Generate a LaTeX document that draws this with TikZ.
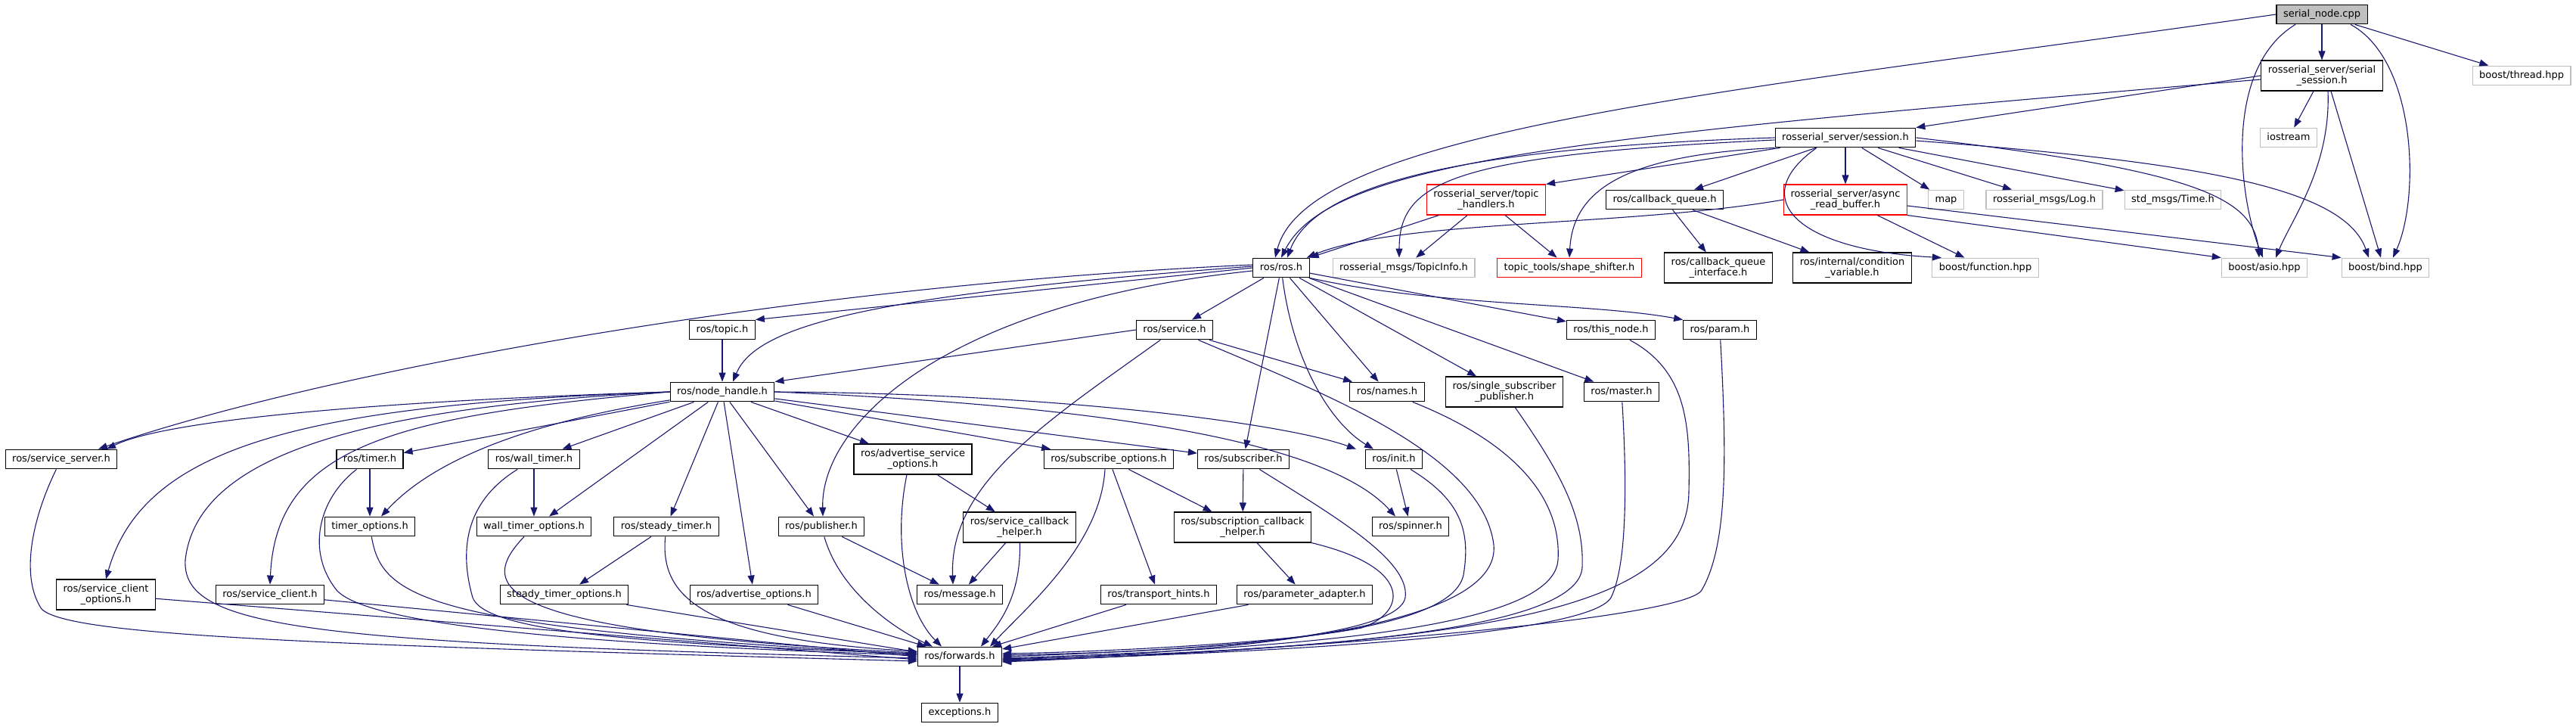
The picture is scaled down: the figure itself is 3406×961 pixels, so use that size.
\documentclass[tikz,border=0pt]{standalone}
\usepackage{fontspec}
\setmainfont{DejaVu Sans}
\usepackage{xcolor}
\usepackage{tikz}
\usetikzlibrary{arrows.meta}

\definecolor{depblue}{HTML}{191970}
\definecolor{extgray}{HTML}{BFBFBF}
\definecolor{rootgray}{HTML}{BFBFBF}

\begin{document}
\begin{tikzpicture}[x=1pt, y=-1pt,
  filebox/.style={draw=black, line width=1.1pt, font=\fontsize{13}{14}\selectfont, inner xsep=9pt},
  file/.style={filebox, text height=9.5pt, text depth=3pt, inner ysep=6.6pt},
  file2/.style={filebox, align=center, minimum height=40pt, inner ysep=3pt},
  nodoc/.style={draw=extgray},
  missing/.style={draw=red},
  rootfile/.style={fill=rootgray},
  dep/.style={draw=depblue, line width=1.1pt, -{Triangle[length=12pt, width=9pt]}}]
  \useasboundingbox (0,0) rectangle (3406,961);

  % files
  \node[file, rootfile] (sn) at (3070,19) {serial\_node.cpp};
  \node[file2] (ss) at (3070,100) {rosserial\_server/serial\\\_session.h};
  \node[file, nodoc] (thr) at (3334,100) {boost/thread.hpp};
  \node[file] (ses) at (2440,182) {rosserial\_server/session.h};
  \node[file, nodoc] (ios) at (3026,182) {iostream};
  \node[file2, missing] (th) at (1965,264) {rosserial\_server/topic\\\_handlers.h};
  \node[file] (cq) at (2201,264) {ros/callback\_queue.h};
  \node[file2, missing] (arb) at (2440,264) {rosserial\_server/async\\\_read\_buffer.h};
  \node[file, nodoc] (map) at (2573,264) {map};
  \node[file, nodoc] (log) at (2703,264) {rosserial\_msgs/Log.h};
  \node[file, nodoc] (time) at (2873,264) {std\_msgs/Time.h};
  \node[file] (ros) at (1694,354) {ros/ros.h};
  \node[file, nodoc] (tinfo) at (1856,354) {rosserial\_msgs/TopicInfo.h};
  \node[file, missing] (shs) at (2075,354) {topic\_tools/shape\_shifter.h};
  \node[file2] (cqi) at (2272,354) {ros/callback\_queue\\\_interface.h};
  \node[file2] (cv) at (2449,354) {ros/internal/condition\\\_variable.h};
  \node[file, nodoc] (bfun) at (2625,354) {boost/function.hpp};
  \node[file, nodoc] (basio) at (2994,354) {boost/asio.hpp};
  \node[file, nodoc] (bbind) at (3154,354) {boost/bind.hpp};
  \node[file] (topic) at (955,436) {ros/topic.h};
  \node[file] (srv) at (1553,436) {ros/service.h};
  \node[file] (thisnode) at (2130,436) {ros/this\_node.h};
  \node[file] (param) at (2274,436) {ros/param.h};
  \node[file] (nh) at (955,518) {ros/node\_handle.h};
  \node[file] (names) at (1834,518) {ros/names.h};
  \node[file2] (ssp) at (1989,518) {ros/single\_subscriber\\\_publisher.h};
  \node[file] (master) at (2144,518) {ros/master.h};
  \node[file] (sserver) at (81,607) {ros/service\_server.h};
  \node[file] (timer) at (489,607) {ros/timer.h};
  \node[file] (wtimer) at (706,607) {ros/wall\_timer.h};
  \node[file2] (aso) at (1207,607) {ros/advertise\_service\\\_options.h};
  \node[file] (subo) at (1466,607) {ros/subscribe\_options.h};
  \node[file] (sub) at (1644,607) {ros/subscriber.h};
  \node[file] (init) at (1843,607) {ros/init.h};
  \node[file] (topt) at (489,696) {timer\_options.h};
  \node[file] (wtopt) at (706,696) {wall\_timer\_options.h};
  \node[file] (stimer) at (881,696) {ros/steady\_timer.h};
  \node[file] (pub) at (1086,696) {ros/publisher.h};
  \node[file2] (sch) at (1348,697) {ros/service\_callback\\\_helper.h};
  \node[file2] (subch) at (1643,697) {ros/subscription\_callback\\\_helper.h};
  \node[file] (spin) at (1865,696) {ros/spinner.h};
  \node[file2] (sco) at (140,786) {ros/service\_client\\\_options.h};
  \node[file] (sc) at (357,786) {ros/service\_client.h};
  \node[file] (stopt) at (746,786) {steady\_timer\_options.h};
  \node[file] (ao) at (997,786) {ros/advertise\_options.h};
  \node[file] (msg) at (1269,786) {ros/message.h};
  \node[file] (hints) at (1532,786) {ros/transport\_hints.h};
  \node[file] (pa) at (1725,786) {ros/parameter\_adapter.h};
  \node[file] (fwd) at (1269,868) {ros/forwards.h};
  \node[file] (exc) at (1269,942) {exceptions.h};

  % serial_node.cpp and serial_session.h
  \draw[dep] (sn.west) .. controls (2300,120) and (1730,170) .. ([xshift=-8pt]ros.north);
  \draw[dep] (sn) -- (ss);
  \draw[dep] (sn) -- (thr);
  \draw[dep] ([xshift=-35pt]sn.south) .. controls (2940,90) and (2960,260) .. ([xshift=-2pt]basio.north);
  \draw[dep] ([xshift=38pt]sn.south) .. controls (3195,80) and (3200,260) .. ([xshift=10pt]bbind.north);
  \draw[dep] (ss.west) -- (ses.north east);
  \draw[dep] ([yshift=-5pt]ss.west) .. controls (2100,180) and (1760,210) .. (ros.north);
  \draw[dep] (ss) -- (ios);
  \draw[dep] ([xshift=8pt]ss.south) .. controls (3082,220) and (3030,290) .. ([xshift=15pt]basio.north);
  \draw[dep] ([xshift=12pt]ss.south) -- ([xshift=-6pt]bbind.north);

  % session.h
  \draw[dep] (ses.west) .. controls (1950,195) and (1740,240) .. ([xshift=8pt]ros.north);
  \draw[dep] ([yshift=-3pt]ses.west) .. controls (1920,205) and (1850,240) .. ([xshift=-6pt]tinfo.north);
  \draw[dep] (ses) -- (th.north east);
  \draw[dep] (ses.south west) .. controls (2150,205) and (2080,250) .. (shs.north);
  \draw[dep] (ses) -- (cq);
  \draw[dep] (ses) -- (arb);
  \draw[dep] (ses) -- (map);
  \draw[dep] (ses) -- (log);
  \draw[dep] (ses) -- (time);
  \draw[dep] ([xshift=-38pt]ses.south) .. controls (2310,260) and (2370,330) .. ([xshift=-58pt]bfun.north);
  \draw[dep] (ses.east) .. controls (2900,225) and (2980,260) .. ([xshift=-7pt]basio.north);
  \draw[dep] ([yshift=-4pt]ses.east) .. controls (2920,215) and (3100,250) .. ([xshift=-22pt]bbind.north);

  % topic_handlers.h, callback_queue.h, async_read_buffer.h
  \draw[dep] (th) -- (ros.north east);
  \draw[dep] (th) -- (tinfo);
  \draw[dep] (th) -- (shs);
  \draw[dep] (cq) -- (cqi);
  \draw[dep] (cq) -- (cv);
  \draw[dep] (arb.west) .. controls (2150,300) and (1850,290) .. ([xshift=-4pt]ros.north east);
  \draw[dep] (arb) -- (bfun);
  \draw[dep] (arb.south east) -- (basio.north west);
  \draw[dep] ([yshift=-8pt]arb.east) -- (bbind.north west);

  % ros.h
  \draw[dep] (ros.west) -- (topic.north east);
  \draw[dep] ([yshift=2pt]ros.west) .. controls (1150,390) and (1000,430) .. ([xshift=14pt]nh.north);
  \draw[dep] ([yshift=4pt]ros.west) .. controls (1000,380) and (400,500) .. ([xshift=49pt]sserver.north);
  \draw[dep] (ros) -- (srv);
  \draw[dep] ([yshift=-4pt]ros.west) .. controls (1250,400) and (1085,560) .. ([xshift=2pt]pub.north);
  \draw[dep] (ros) -- (sub);
  \draw[dep] (ros) -- (names);
  \draw[dep] (ros) -- (ssp);
  \draw[dep] (ros) -- (master);
  \draw[dep] (ros) -- (thisnode);
  \draw[dep] (ros.south east) .. controls (1900,405) and (2100,400) .. (param.north west);
  \draw[dep] (ros) .. controls (1710,480) and (1760,560) .. ([xshift=-27pt]init.north);

  % topic.h and service.h
  \draw[dep] (topic) -- (nh);
  \draw[dep] (srv.west) -- (nh.north east);
  \draw[dep] (srv) -- (names);
  \draw[dep] (srv) .. controls (1380,560) and (1255,640) .. ([xshift=-9pt]msg.north);
  \draw[dep] (srv) .. controls (1750,520) and (1960,600) .. (1975,720) .. controls (1985,820) and (1700,860) .. ([yshift=-4pt]fwd.east);

  % node_handle.h
  \draw[dep] (nh.west) .. controls (500,530) and (220,555) .. ([xshift=60pt]sserver.north);
  \draw[dep] (nh.west) .. controls (400,535) and (190,590) .. (sco.north);
  \draw[dep] (nh.west) .. controls (520,550) and (365,590) .. (sc.north);
  \draw[dep] (nh) -- (timer);
  \draw[dep] (nh) .. controls (720,555) and (580,600) .. ([xshift=15pt]topt.north);
  \draw[dep] (nh) -- (wtimer);
  \draw[dep] (nh) -- ([xshift=20pt]wtopt.north);
  \draw[dep] (nh) -- (stimer);
  \draw[dep] (nh) -- (ao);
  \draw[dep] (nh) -- ([xshift=-10pt]pub.north);
  \draw[dep] (nh) -- (aso);
  \draw[dep] (nh) -- (subo);
  \draw[dep] (nh) -- (sub);
  \draw[dep] (nh.east) .. controls (1400,520) and (1700,560) .. ([xshift=-50pt]init.north);
  \draw[dep] (nh.east) .. controls (1550,540) and (1770,600) .. ([xshift=-20pt]spin.north);
  \draw[dep] (nh.west) .. controls (450,540) and (260,610) .. (245,740) .. controls (240,830) and (400,850) .. ([yshift=-2pt]fwd.west);

  % second and third rows
  \draw[dep] (timer) -- (topt);
  \draw[dep] (wtimer) -- (wtopt);
  \draw[dep] (stimer) -- (stopt);
  \draw[dep] (aso) -- (sch);
  \draw[dep] (subo) -- (hints);
  \draw[dep] (subo) -- (subch);
  \draw[dep] (sub) -- (subch);
  \draw[dep] (subch) -- (pa);
  \draw[dep] (pub) -- (msg);
  \draw[dep] (sch) -- (msg);
  \draw[dep] (init) -- (spin);

  % into forwards.h from the left
  \draw[dep] (sserver) .. controls (45,680) and (25,760) .. (55,805) .. controls (90,840) and (400,852) .. ([yshift=-6pt]fwd.west);
  \draw[dep] (sco) -- ([yshift=-4pt]fwd.west);
  \draw[dep] (sc) -- (fwd.west);
  \draw[dep] (timer) .. controls (420,660) and (405,730) .. (445,780) .. controls (480,820) and (700,850) .. ([yshift=2pt]fwd.west);
  \draw[dep] (topt) .. controls (505,790) and (560,830) .. ([yshift=3pt]fwd.west);
  \draw[dep] (wtimer) .. controls (620,660) and (605,720) .. (625,790) .. controls (640,830) and (800,850) .. ([yshift=4pt]fwd.west);
  \draw[dep] (wtopt) .. controls (625,780) and (660,835) .. ([yshift=5pt]fwd.west);
  \draw[dep] (stopt) -- ([yshift=6pt]fwd.west);
  \draw[dep] (stimer) .. controls (872,790) and (930,845) .. ([yshift=7pt]fwd.west);
  \draw[dep] (ao) -- (fwd);

  % into forwards.h from above
  \draw[dep] (pub) .. controls (1110,780) and (1180,830) .. ([xshift=-36pt]fwd.north);
  \draw[dep] ([xshift=-8pt]aso.south) .. controls (1180,720) and (1200,810) .. ([xshift=-24pt]fwd.north);
  \draw[dep] (sch) .. controls (1350,790) and (1320,825) .. ([xshift=28pt]fwd.north);
  \draw[dep] ([xshift=-5pt]subo.south) .. controls (1455,720) and (1360,800) .. ([xshift=40pt]fwd.north);

  % into forwards.h from the right
  \draw[dep] (hints) -- (fwd);
  \draw[dep] (pa) -- (fwd);
  \draw[dep] (subch.south east) .. controls (1870,750) and (1860,810) .. (1800,830) .. controls (1700,850) and (1450,862) .. ([yshift=4pt]fwd.east);
  \draw[dep] (sub) .. controls (1760,680) and (1865,740) .. (1858,790) .. controls (1850,835) and (1650,860) .. ([yshift=2pt]fwd.east);
  \draw[dep] (init) .. controls (1930,660) and (1945,700) .. (1935,760) .. controls (1920,830) and (1700,855) .. (fwd.east);
  \draw[dep] (names) .. controls (1990,580) and (2065,650) .. (2060,740) .. controls (2055,820) and (1800,855) .. ([yshift=-2pt]fwd.east);
  \draw[dep] (ssp) .. controls (2060,620) and (2095,680) .. (2092,750) .. controls (2088,820) and (1850,858) .. ([yshift=-3pt]fwd.east);
  \draw[dep] (master) .. controls (2152,650) and (2150,750) .. (2130,790) .. controls (2100,840) and (1700,862) .. ([yshift=-5pt]fwd.east);
  \draw[dep] (thisnode) .. controls (2230,490) and (2235,560) .. (2233,650) .. controls (2231,800) and (2000,850) .. ([yshift=-6pt]fwd.east);
  \draw[dep] (param) .. controls (2283,600) and (2285,720) .. (2250,780) .. controls (2230,815) and (1800,855) .. ([yshift=-7pt]fwd.east);

  \draw[dep] (fwd) -- (exc);
\end{tikzpicture}
\end{document}
